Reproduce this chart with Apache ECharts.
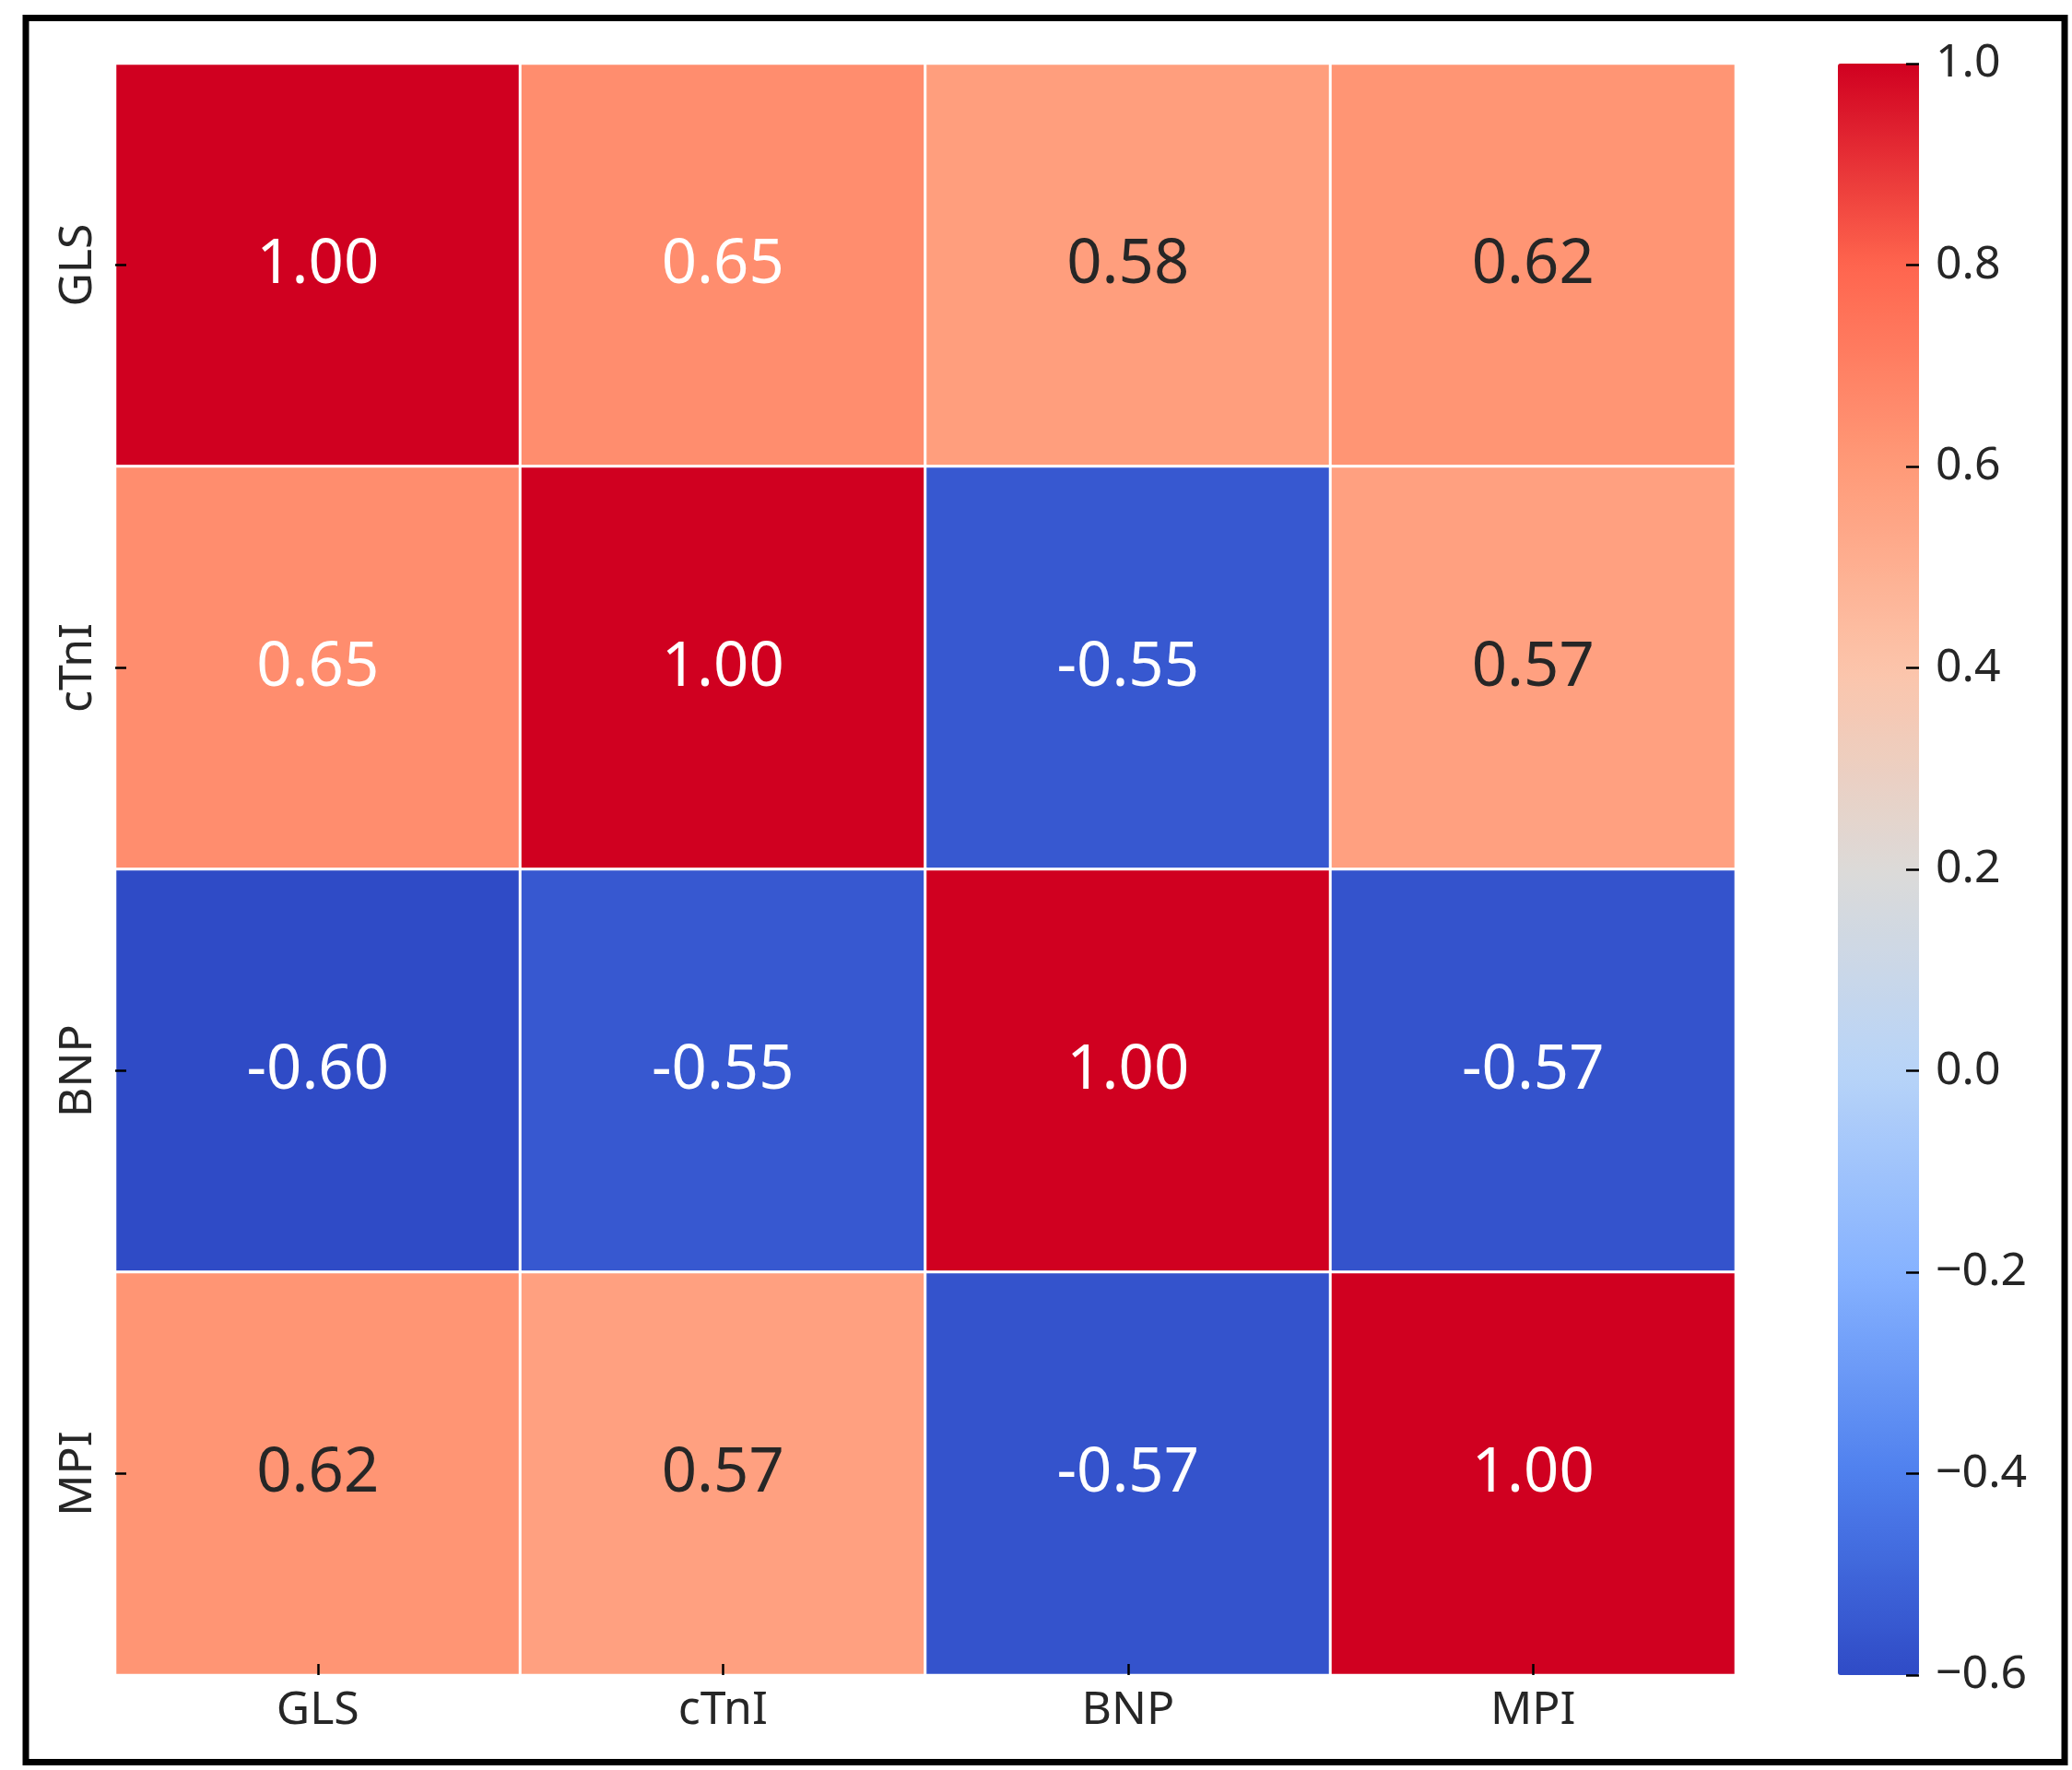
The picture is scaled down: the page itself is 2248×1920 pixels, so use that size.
<!DOCTYPE html>
<html>
<head>
<meta charset="utf-8">
<script src="https://cdn.jsdelivr.net/npm/echarts@6/dist/echarts.min.js"></script>
<style>
html,body{margin:0;padding:0;background:#fff;}
#chart{width:2248px;height:1920px;}
</style>
</head>
<body>
<div id="chart"></div>
<script>
// ---- data ----
const categories = ['GLS', 'cTnI', 'BNP', 'MPI'];
const rowGLS  = [1.00, 0.65, 0.58, 0.62];
const rowCTnI = [0.65, 1.00, -0.55, 0.57];
const rowBNP  = [-0.60, -0.55, 1.00, -0.57];
const rowMPI  = [0.62, 0.57, -0.57, 1.00];
const rows = [rowGLS, rowCTnI, rowBNP, rowMPI];
const colorMin = -0.6;
const colorMax = 1.0;
const colorStep = 0.2;
// colormap stops, evenly spaced from colorMin to colorMax
const cmap = ['#2f4bc6', '#4f80ee', '#86b2ff', '#b8d4f8', '#dcdad8', '#fcc4aa', '#ff9a78', '#ff654e', '#d00020'];

function hexToRgb(h){ return [parseInt(h.substr(1,2),16), parseInt(h.substr(3,2),16), parseInt(h.substr(5,2),16)]; }
function colorAt(v){
  let t = (v - colorMin) / (colorMax - colorMin);
  t = Math.max(0, Math.min(1, t));
  const p = t * (cmap.length - 1);
  const i = Math.min(cmap.length - 2, Math.floor(p));
  const f = p - i;
  const a = hexToRgb(cmap[i]), b = hexToRgb(cmap[i+1]);
  return [0,1,2].map(k => a[k] + (b[k]-a[k]) * f);
}
function luminance(rgb){
  const lin = rgb.map(c => { c = c/255; return c <= 0.03928 ? c/12.92 : Math.pow((c+0.055)/1.055, 2.4); });
  return 0.2126*lin[0] + 0.7152*lin[1] + 0.0722*lin[2];
}

const heatData = [];
rows.forEach((row, yi) => {
  row.forEach((v, xi) => {
    const lum = luminance(colorAt(v));
    heatData.push({ value: [xi, yi, v], label: { color: lum > 0.425 ? '#262626' : '#ffffff' } });
  });
});

const FONT = 'Noto Sans';
const chart = echarts.init(document.getElementById('chart'), null, { renderer: 'canvas' });
chart.setOption({
  backgroundColor: '#ffffff',
  animation: false,
  grid: [
    { left: 125, top: 69, width: 1758, height: 1748 },
    { left: 1994, top: 69, width: 88, height: 1748 }
  ],
  xAxis: [
    {
      gridIndex: 0, type: 'category', data: categories, z: 10,
      axisLine: { show: false, onZero: false },
      axisTick: { show: true, alignWithLabel: true, inside: true, length: 12, lineStyle: { color: '#000', width: 2.5 } },
      axisLabel: { fontSize: 50, fontFamily: FONT, color: '#262626', margin: 14 },
      splitLine: { show: false }
    },
    { gridIndex: 1, type: 'value', show: false, min: 0, max: 1 }
  ],
  yAxis: [
    {
      gridIndex: 0, type: 'category', data: categories, inverse: true, z: 10,
      axisLine: { show: false, onZero: false },
      axisTick: { show: true, alignWithLabel: true, inside: true, length: 12, lineStyle: { color: '#000', width: 2.5 } },
      axisLabel: { fontSize: 50, fontFamily: FONT, color: '#262626', rotate: 90, margin: 15 },
      splitLine: { show: false }
    },
    {
      gridIndex: 1, type: 'value', position: 'right', min: colorMin, max: colorMax, interval: colorStep, z: 10,
      axisLine: { show: false, onZero: false },
      axisTick: { show: true, inside: true, length: 14, lineStyle: { color: '#000', width: 2.5 } },
      axisLabel: {
        fontSize: 50, fontFamily: FONT, color: '#262626', margin: 18,
        formatter: v => (Math.abs(v) < 1e-9 ? 0 : v).toFixed(1).replace('-', '\u2212')
      },
      splitLine: { show: false }
    }
  ],
  visualMap: {
    type: 'continuous', min: colorMin, max: colorMax, seriesIndex: 0,
    orient: 'vertical', left: 1994, top: 69, itemWidth: 88, itemHeight: 1748,
    padding: 0, calculable: false, hoverLink: false, text: null, showLabel: false,
    inRange: { color: cmap }
  },
  series: [{
    type: 'heatmap', xAxisIndex: 0, yAxisIndex: 0, data: heatData,
    itemStyle: { borderColor: '#ffffff', borderWidth: 3 },
    label: {
      show: true, fontSize: 67, fontFamily: FONT,
      formatter: p => p.value[2].toFixed(2)
    },
    emphasis: { disabled: true }
  }],
  graphic: [{
    type: 'rect', z: 100, silent: true,
    shape: { x: 28, y: 19.5, width: 2212, height: 1892 },
    style: { fill: 'none', stroke: '#000', lineWidth: 7 }
  }]
});
</script>
</body>
</html>
